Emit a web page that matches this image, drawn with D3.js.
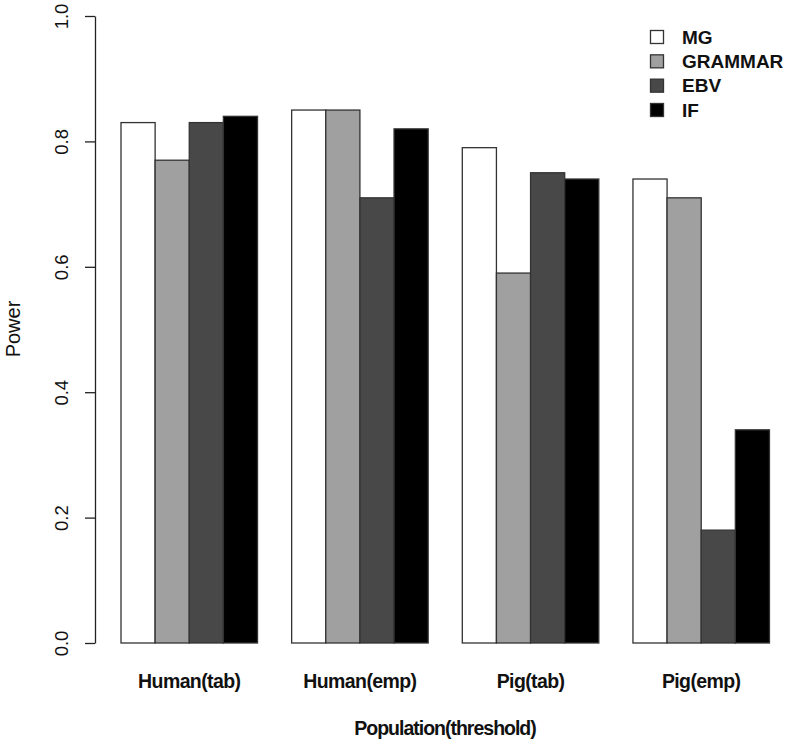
<!DOCTYPE html>
<html><head><meta charset="utf-8">
<script src="https://cdn.jsdelivr.net/npm/d3@7"></script>
<style>body{margin:0;background:#fff}svg{display:block}text{font-family:"Liberation Sans",Arial,sans-serif}</style>
</head><body>
<svg id="c" width="789" height="743"></svg>
<script>
const categories = ["Human(tab)", "Human(emp)", "Pig(tab)", "Pig(emp)"];
const seriesNames = ["MG", "GRAMMAR", "EBV", "IF"];
const MG = [0.83, 0.85, 0.79, 0.74];
const GRAMMAR = [0.77, 0.85, 0.59, 0.71];
const EBV = [0.83, 0.71, 0.75, 0.18];
const IF = [0.84, 0.82, 0.74, 0.34];
const yTicks = [0, 0.2, 0.4, 0.6, 0.8, 1.0];
const colors = ["#ffffff", "#a0a0a0", "#484848", "#000000"];
const series = [MG, GRAMMAR, EBV, IF];

const svg = d3.select("#c");
const w = 34.13;
const x0 = d3.scaleBand().domain(categories).range([121, 121 + 19 * w]).paddingInner(0.2).paddingOuter(0);
const x1 = d3.scaleBand().domain(seriesNames).range([0, x0.bandwidth()]).padding(0);
const y = d3.scaleLinear().domain([0, 1]).range([643, 16]);

const g = svg.append("g");
categories.forEach((c, i) => {
  seriesNames.forEach((s, j) => {
    const v = series[j][i];
    g.append("rect")
      .attr("x", x0(c) + x1(s)).attr("y", y(v))
      .attr("width", x1.bandwidth()).attr("height", y(0) - y(v))
      .attr("fill", colors[j]).attr("stroke", "#333").attr("stroke-width", 1.3);
  });
});

// y axis
const ax = svg.append("g").attr("transform", "translate(95,0)")
  .call(d3.axisLeft(y).tickValues(yTicks).tickFormat(d3.format(".1f")).tickSize(10).tickSizeOuter(0));
ax.select(".domain").attr("stroke", "#222").attr("stroke-width", 1.3);
ax.selectAll(".tick line").attr("stroke", "#222").attr("stroke-width", 1.3);
ax.selectAll(".tick text")
  .attr("x", null).attr("dy", null)
  .attr("transform", "translate(-27,0) rotate(-90)")
  .attr("text-anchor", "middle")
  .attr("font-size", 18.5).attr("fill", "#111")
  .style("font-family", '"Liberation Sans",Arial,sans-serif');

// y label
svg.append("text").attr("transform", "translate(20,329) rotate(-90)")
  .attr("text-anchor", "middle").attr("font-size", 20).attr("fill", "#111").text("Power");

// category labels
categories.forEach(c => {
  svg.append("text").attr("x", x0(c) + x0.bandwidth() / 2).attr("y", 688)
    .attr("text-anchor", "middle").attr("font-size", 19.5).attr("font-weight", "bold")
    .attr("letter-spacing", "-0.6").attr("fill", "#111").text(c);
});

svg.append("text").attr("x", 445).attr("y", 735)
  .attr("text-anchor", "middle").attr("font-size", 19.5).attr("font-weight", "bold")
  .attr("letter-spacing", "-1").attr("fill", "#111").text("Population(threshold)");

// legend
const rowY = d3.scaleLinear().domain([0, 3]).range([37, 110]);
seriesNames.forEach((s, j) => {
  svg.append("rect").attr("x", 650.5).attr("y", rowY(j) - 6.5).attr("width", 13).attr("height", 13)
    .attr("fill", colors[j]).attr("stroke", "#333").attr("stroke-width", 1.3);
  svg.append("text").attr("x", 682).attr("y", rowY(j) + 6.5)
    .attr("font-size", 19).attr("font-weight", "bold")
    .attr("fill", "#111").text(s);
});
</script>
</body></html>
